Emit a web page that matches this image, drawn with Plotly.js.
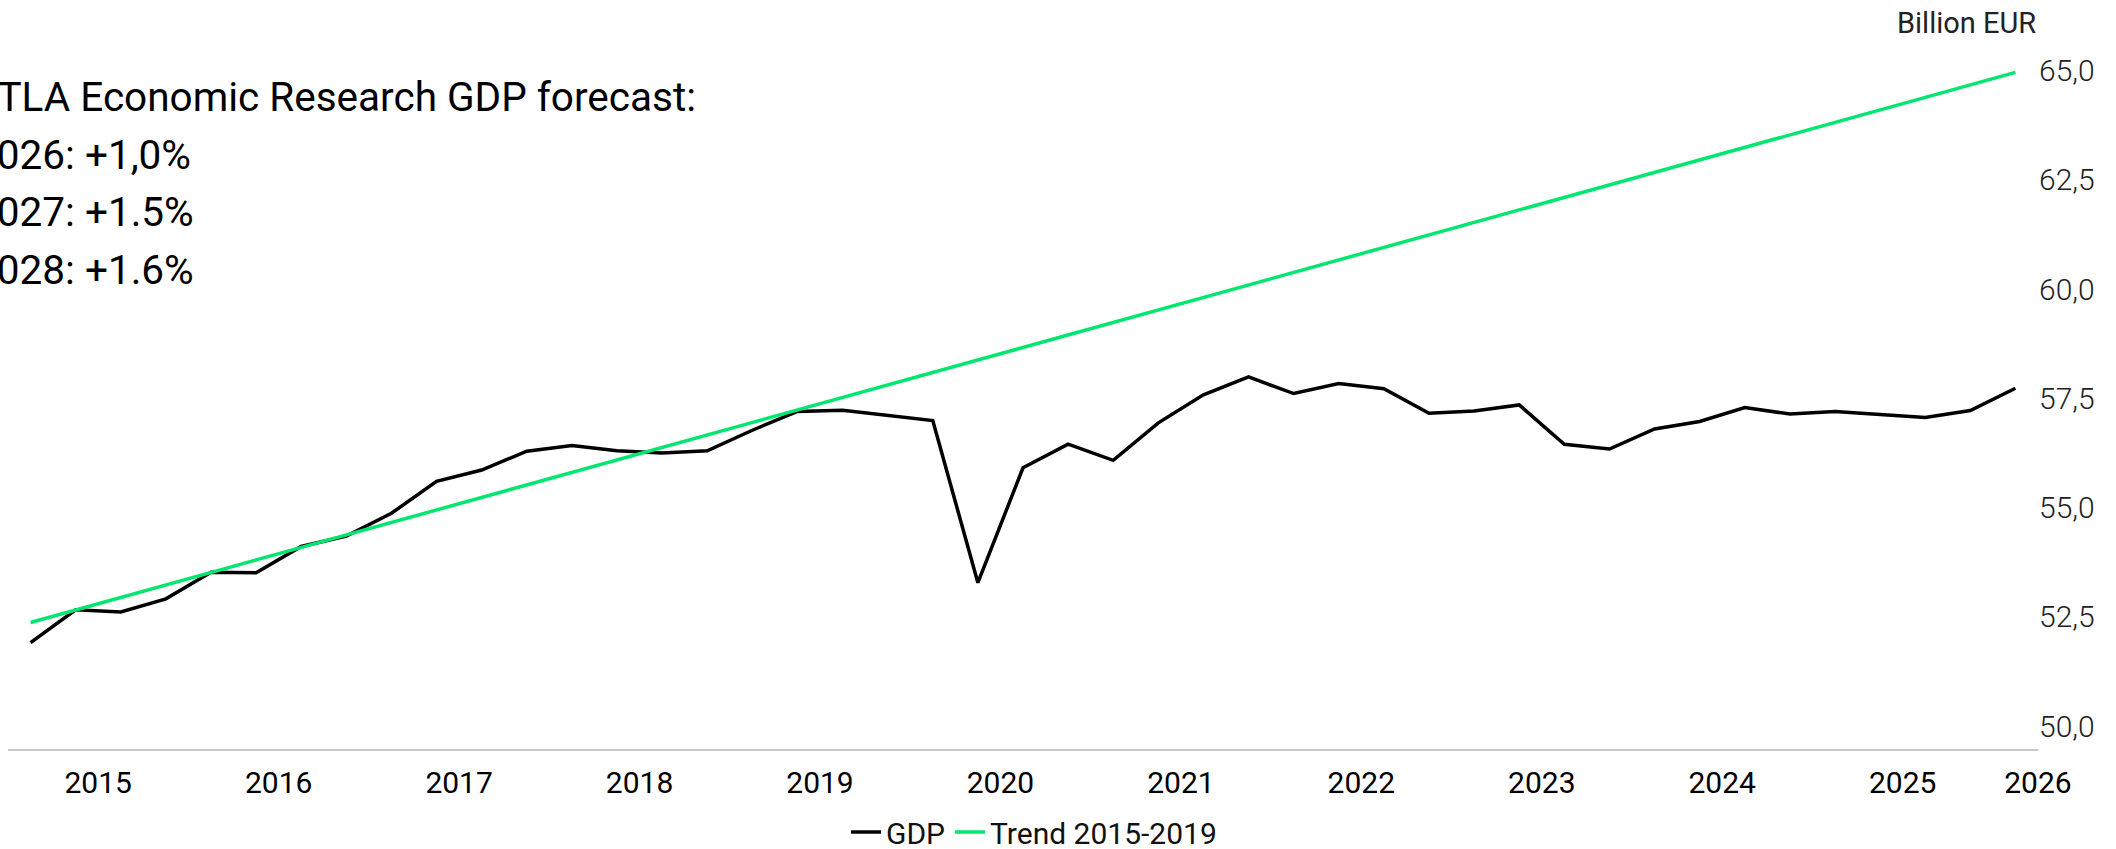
<!DOCTYPE html>
<html>
<head>
<meta charset="utf-8">
<script src="https://cdn.plot.ly/plotly-3.0.1.min.js"></script>
<style>
html,body{margin:0;padding:0;background:#fff;overflow:hidden}
#chart{width:2116px;height:849px}
</style>
</head>
<body>
<div id="chart"></div>
<script>
// ---- Data ----
const quarters = [
  "2015Q1","2015Q2","2015Q3","2015Q4",
  "2016Q1","2016Q2","2016Q3","2016Q4",
  "2017Q1","2017Q2","2017Q3","2017Q4",
  "2018Q1","2018Q2","2018Q3","2018Q4",
  "2019Q1","2019Q2","2019Q3","2019Q4",
  "2020Q1","2020Q2","2020Q3","2020Q4",
  "2021Q1","2021Q2","2021Q3","2021Q4",
  "2022Q1","2022Q2","2022Q3","2022Q4",
  "2023Q1","2023Q2","2023Q3","2023Q4",
  "2024Q1","2024Q2","2024Q3","2024Q4",
  "2025Q1","2025Q2","2025Q3","2025Q4",
  "2026Q1"
];
const gdp = [
  51.91, 52.66, 52.61, 52.91,
  53.52, 53.51, 54.11, 54.35,
  54.87, 55.60, 55.86, 56.29,
  56.42, 56.30, 56.25, 56.30,
  56.77, 57.20, 57.23, 57.11,
  56.99, 53.28, 55.91, 56.45,
  56.08, 56.94, 57.58, 57.99,
  57.61, 57.84, 57.72, 57.16,
  57.21, 57.35, 56.45, 56.34,
  56.80, 56.97, 57.29, 57.14,
  57.20, 57.13, 57.06, 57.22,
  57.73
];
const trendQuarters = ["2015Q1", "2026Q1"];
const trendValues = [52.37, 64.96];
const yearLabels = ["2015","2016","2017","2018","2019","2020","2021","2022","2023","2024","2025","2026"];
const yTickValues = [50, 52.5, 55, 57.5, 60, 62.5, 65];
const seriesNames = ["GDP", "Trend 2015-2019"];
const unitLabel = "Billion EUR";
const forecastLines = [
  "ETLA Economic Research GDP forecast:",
  "2026: +1,0%",
  "2027: +1.5%",
  "2028: +1.6%"
];

// ---- Helpers ----
function qpos(q) { // mid-quarter position on a continuous year scale
  const y = parseInt(q.slice(0, 4), 10);
  const n = parseInt(q.slice(5), 10);
  return y + (n - 0.5) / 4;
}
const FONT = "Roboto, 'Open Sans', Arial, sans-serif";

const W = 2116, H = 849;
const M = {l: 8, r: 78, t: 40, b: 100, autoexpand: false};
const plotH = H - M.t - M.b;
const plotW = W - M.l - M.r;

const xStart = parseInt(quarters[0].slice(0, 4), 10);
const xEnd = qpos(quarters[quarters.length - 1]) + 0.125;

const tickVals = yearLabels.map(function (y) {
  const v = parseInt(y, 10) + 0.5;
  return v > xEnd ? xEnd - 0.0005 : v;
});

const yMin = 49.474, yMax = 65.702;
function pyToPaper(py) { return (H - M.b - py) / plotH; }
function pxToPaper(px) { return (px - M.l) / plotW; }

const traces = [
  {
    x: quarters.map(qpos),
    y: gdp,
    name: seriesNames[0],
    type: "scatter",
    mode: "lines",
    line: {color: "#000000", width: 3.5},
    hoverinfo: "skip"
  },
  {
    x: trendQuarters.map(qpos),
    y: trendValues,
    name: seriesNames[1],
    type: "scatter",
    mode: "lines",
    line: {color: "#00E66E", width: 3.5},
    hoverinfo: "skip"
  }
];

const forecastY = [97, 155, 212, 270];
const annotations = forecastLines.map(function (t, i) {
  return {
    text: t,
    xref: "paper", yref: "paper",
    x: pxToPaper(-28), y: pyToPaper(forecastY[i]),
    xanchor: "left", yanchor: "middle",
    showarrow: false,
    font: {family: FONT, size: 40.5, color: "#000000"}
  };
});
annotations.push({
  text: unitLabel,
  xref: "paper", yref: "paper",
  x: 1, y: pyToPaper(23),
  xanchor: "right", yanchor: "middle",
  showarrow: false,
  font: {family: FONT, size: 29, color: "#222222"}
});

const layout = {
  width: W, height: H,
  margin: M,
  paper_bgcolor: "#ffffff",
  plot_bgcolor: "#ffffff",
  separators: ", ",
  font: {family: FONT, size: 30, color: "#000000"},
  showlegend: true,
  legend: {
    orientation: "h",
    xref: "paper", x: pxToPaper(1034), xanchor: "center",
    yref: "container", y: (H - 832) / H, yanchor: "middle",
    font: {family: FONT, size: 30, color: "#111111"},
    bgcolor: "rgba(0,0,0,0)",
    borderwidth: 0,
    itemclick: false, itemdoubleclick: false
  },
  xaxis: {
    type: "linear",
    range: [xStart, xEnd],
    tickmode: "array",
    tickvals: tickVals,
    ticktext: yearLabels,
    ticks: "",
    ticklabelstandoff: 6,
    showgrid: false,
    zeroline: false,
    showline: true,
    linecolor: "#c8c8c8",
    linewidth: 2,
    tickfont: {family: FONT, size: 30, color: "#000000"},
    automargin: false,
    fixedrange: true
  },
  yaxis: {
    side: "right",
    range: [yMin, yMax],
    tickmode: "array",
    tickvals: yTickValues,
    tickformat: ".1f",
    ticks: "",
    showgrid: false,
    zeroline: false,
    showline: false,
    tickfont: {family: FONT, size: 30, color: "#222222", weight: 300},
    automargin: false,
    fixedrange: true
  },
  annotations: annotations
};

Plotly.newPlot("chart", traces, layout, {displayModeBar: false, staticPlot: true});
</script>
</body>
</html>
